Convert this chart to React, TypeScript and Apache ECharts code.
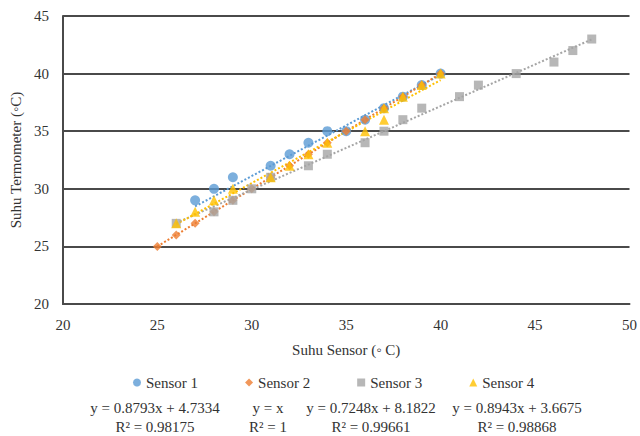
import React, { useEffect, useRef } from "react";
import * as echarts from "echarts";

const xTicks = [20, 25, 30, 35, 40, 45, 50];
const yTicks = [20, 25, 30, 35, 40, 45];

const sensorNames = ["Sensor 1", "Sensor 2", "Sensor 3", "Sensor 4"];
const sensorColors = ["#5B9BD5", "#ED7D31", "#A5A5A5", "#FFC000"];
const sensorSymbols = ["circle", "diamond", "rect", "triangle"];

const sensor1X = [27, 28, 29, 31, 32, 33, 34, 35, 36, 37, 38, 39, 40];
const sensor1Y = [29, 30, 31, 32, 33, 34, 35, 35, 36, 37, 38, 39, 40];
const sensor2X = [25, 26, 27, 28, 29, 30, 31, 32, 33, 34, 35, 36, 37, 38, 39, 40];
const sensor2Y = [25, 26, 27, 28, 29, 30, 31, 32, 33, 34, 35, 36, 37, 38, 39, 40];
const sensor3X = [26, 28, 29, 30, 31, 33, 34, 36, 37, 38, 39, 41, 42, 44, 46, 47, 48];
const sensor3Y = [27, 28, 29, 30, 31, 32, 33, 34, 35, 36, 37, 38, 39, 40, 41, 42, 43];
const sensor4X = [26, 27, 28, 29, 31, 32, 33, 34, 36, 37, 37, 38, 39, 40];
const sensor4Y = [27, 28, 29, 30, 31, 32, 33, 34, 35, 36, 37, 38, 39, 40];

// trend line end points
const trendX = [
  [27, 40],
  [25, 40],
  [26, 48],
  [26, 40],
];
const trendY = [
  [28.47, 39.9],
  [25, 40],
  [27.03, 42.97],
  [26.92, 39.44],
];

const equations = [
  "y = 0.8793x + 4.7334",
  "y = x",
  "y = 0.7248x + 8.1822",
  "y = 0.8943x + 3.6675",
];
const rSquared = ["R² = 0.98175", "R² = 1", "R² = 0.99661", "R² = 0.98868"];
const equationCenters = [155, 268, 371, 517];

const FONT = "Liberation Serif";
const TEXT = "#333333";
const LINE = "#4a4a4a";

export default function App() {
  const ref = useRef<HTMLDivElement>(null);
  useEffect(() => {
    if (!ref.current) return;
    const chart = echarts.init(ref.current, undefined, { renderer: "svg" });
    const xs = [sensor1X, sensor2X, sensor3X, sensor4X];
    const ys = [sensor1Y, sensor2Y, sensor3Y, sensor4Y];
    const sizes = [10, 9, 9, 10];
    const series: any[] = [];
    trendX.forEach((tx, i) => {
      series.push({
        name: "trend" + (i + 1),
        type: "line",
        data: tx.map((x, j) => [x, trendY[i][j]]),
        symbol: "none",
        silent: true,
        z: 1,
        lineStyle: { color: sensorColors[i], width: 2, type: [2, 2] },
      });
    });
    sensorNames.forEach((n, i) => {
      series.push({
        name: n,
        type: "scatter",
        symbol: sensorSymbols[i],
        symbolSize: sizes[i],
        itemStyle: { color: sensorColors[i] },
        z: 3,
        data: xs[i].map((x, j) => [x, ys[i][j]]),
      });
    });
    const graphics: any[] = [];
    equations.forEach((e, i) => {
      graphics.push({
        type: "text",
        x: equationCenters[i],
        y: 408,
        style: { text: e, fontFamily: FONT, fontSize: 15, fill: TEXT, textAlign: "center", textVerticalAlign: "middle" },
      });
      graphics.push({
        type: "text",
        x: equationCenters[i],
        y: 427,
        style: { text: rSquared[i], fontFamily: FONT, fontSize: 15, fill: TEXT, textAlign: "center", textVerticalAlign: "middle" },
      });
    });
    chart.setOption({
      animation: false,
      backgroundColor: "#ffffff",
      textStyle: { fontFamily: FONT },
      grid: { left: 60, right: 7, top: 16, bottom: 132, containLabel: false },
      legend: {
        data: sensorNames,
        left: 128,
        top: 370,
        itemWidth: 8,
        itemHeight: 8,
        itemGap: 47,
        textStyle: { fontFamily: FONT, fontSize: 15, color: TEXT },
      },
      xAxis: {
        type: "value",
        min: xTicks[0],
        max: xTicks[xTicks.length - 1],
        interval: 5,
        name: "Suhu Sensor (◦ C)",
        nameLocation: "middle",
        nameGap: 38,
        nameTextStyle: { fontFamily: FONT, fontSize: 15, color: TEXT },
        axisLine: { show: true, lineStyle: { color: LINE, width: 2 } },
        axisTick: { show: false },
        splitLine: { show: false },
        axisLabel: { margin: 13, fontFamily: FONT, fontSize: 15, color: TEXT },
      },
      yAxis: {
        type: "value",
        min: yTicks[0],
        max: yTicks[yTicks.length - 1],
        interval: 5,
        name: "Suhu Termometer (◦C)",
        nameLocation: "middle",
        nameGap: 35,
        nameTextStyle: { fontFamily: FONT, fontSize: 15, color: TEXT },
        axisLine: { show: true, lineStyle: { color: LINE, width: 2 } },
        axisTick: { show: false },
        splitLine: { show: true, lineStyle: { color: LINE, width: 2 } },
        axisLabel: { margin: 14, fontFamily: FONT, fontSize: 15, color: TEXT },
      },
      series,
      graphic: graphics,
    });
    return () => chart.dispose();
  }, []);
  return <div ref={ref} style={{ width: 640, height: 436, position: "absolute", left: 0, top: 0 }} />;
}
